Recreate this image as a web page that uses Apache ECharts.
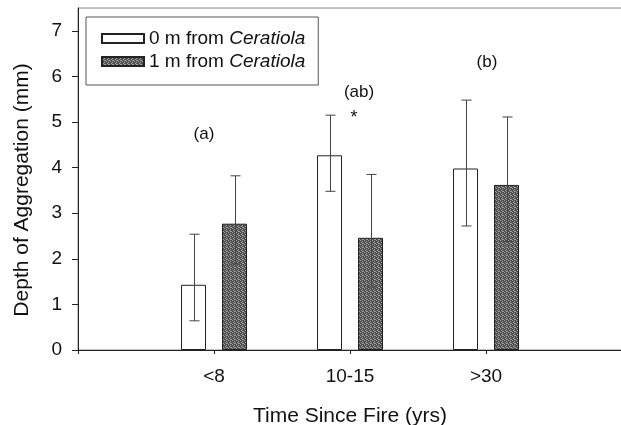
<!DOCTYPE html>
<html>
<head>
<meta charset="utf-8">
<script src="https://cdn.jsdelivr.net/npm/echarts@6/dist/echarts.min.js"></script>
<style>
  html, body { margin: 0; padding: 0; background: #fff; }
  #chart { width: 621px; height: 425px; }
</style>
</head>
<body>
<div id="chart"></div>
<script>
// categories (empty ends keep the plot padded like the original)
var categories = ['', '<8', '10-15', '>30', ''];
var yTicks = [0, 1, 2, 3, 4, 5, 6, 7];

// 0 m from Ceratiola
var mean0 = [null, 1.43, 4.27, 3.98, null];
var low0 = [null, 0.64, 3.48, 2.72, null];
var high0 = [null, 2.54, 5.15, 5.48, null];

// 1 m from Ceratiola
var mean1 = [null, 2.77, 2.46, 3.62, null];
var low1 = [null, 1.89, 1.38, 2.38, null];
var high1 = [null, 3.82, 3.85, 5.11, null];

// group letters
var annoText = ['(a)', '(ab)', '*', '(b)'];
var annoCat = ['<8', '10-15', '10-15', '>30'];
var annoY = [4.72, 5.65, 5.08, 6.3];
var annoOffset = [[-10, 0], [9, 0], [4, 0], [1, 0]];

var chart = echarts.init(document.getElementById('chart'), null, { renderer: 'canvas' });

// stipple fill for the dark bars
var pat = document.createElement('canvas');
pat.width = 4;
pat.height = 4;
var pctx = pat.getContext('2d');
pctx.fillStyle = '#505050';
pctx.fillRect(0, 0, 4, 4);
pctx.fillStyle = '#a0a0a0';
pctx.fillRect(0, 0, 1, 1);
pctx.fillRect(2, 1, 1, 1);
pctx.fillRect(1, 2, 1, 1);
pctx.fillRect(3, 3, 1, 1);
pctx.fillRect(2, 3, 1, 1);

var barW = 25 / 136;
var shift = 20.5 / 136;

function errorSeries(lows, highs, side) {
  var data = [];
  for (var i = 0; i < categories.length; i++) {
    if (lows[i] != null) data.push([i, lows[i], highs[i]]);
  }
  return {
    type: 'custom',
    silent: true,
    z: 5,
    data: data,
    renderItem: function (params, api) {
      var band = api.size([1, 0])[0];
      var lo = api.coord([api.value(0), api.value(1)]);
      var hi = api.coord([api.value(0), api.value(2)]);
      var x = Math.round(lo[0] + side * shift * band) + 0.5;
      var cap = 5;
      var st = { stroke: '#444', lineWidth: 1 };
      return {
        type: 'group',
        children: [
          { type: 'line', shape: { x1: x, y1: lo[1], x2: x, y2: hi[1] }, style: st },
          { type: 'line', shape: { x1: x - cap, y1: hi[1], x2: x + cap, y2: hi[1] }, style: st },
          { type: 'line', shape: { x1: x - cap, y1: lo[1], x2: x + cap, y2: lo[1] }, style: st }
        ]
      };
    }
  };
}

var annoData = [];
for (var k = 0; k < annoText.length; k++) {
  annoData.push({
    value: [annoCat[k], annoY[k]],
    label: {
      formatter: annoText[k],
      offset: annoOffset[k],
      color: '#111',
      textBorderWidth: 0,
      fontSize: annoText[k] == '*' ? 18 : 17
    }
  });
}

var font = 'Liberation Sans, Arial, sans-serif';

chart.setOption({
  animation: false,
  backgroundColor: '#fff',
  textStyle: { fontFamily: font, color: '#111' },
  grid: {
    left: 78, top: 8, width: 544, bottom: 75,
    outerBoundsMode: 'none',
    show: true, borderColor: '#888', borderWidth: 1, backgroundColor: 'transparent'
  },
  legend: {
    orient: 'vertical',
    left: 86, top: 17,
    padding: [12, 13, 14, 15],
    itemGap: 4,
    itemWidth: 42, itemHeight: 9,
    borderColor: '#555', borderWidth: 1,
    icon: 'rect',
    data: ['0 m', '1 m'],
    formatter: function (name) {
      return '{n|' + name + ' from }{i|Ceratiola}';
    },
    textStyle: {
      fontFamily: font, fontSize: 19, color: '#111',
      rich: {
        n: { fontFamily: font, fontSize: 19, lineHeight: 19, color: '#111' },
        i: { fontFamily: font, fontSize: 19, lineHeight: 19, color: '#111', fontStyle: 'italic' }
      }
    }
  },
  xAxis: {
    type: 'category',
    data: categories,
    boundaryGap: false,
    name: 'Time Since Fire (yrs)',
    nameLocation: 'middle',
    nameGap: 56,
    nameTextStyle: { fontFamily: font, fontSize: 21, color: '#111' },
    axisLine: { lineStyle: { color: '#222', width: 1 } },
    axisTick: { show: true, length: 4, lineStyle: { color: '#222' } },
    axisLabel: { fontFamily: font, fontSize: 19, color: '#111', margin: 17 },
    splitLine: { show: false }
  },
  yAxis: {
    type: 'value',
    min: 0, max: 7.5, interval: 1,
    name: 'Depth of Aggregation (mm)',
    nameLocation: 'middle',
    nameGap: 45,
    nameTextStyle: { fontFamily: font, fontSize: 21, color: '#111', padding: [0, 22, 0, 0] },
    axisLine: { show: true, lineStyle: { color: '#222', width: 1 } },
    axisTick: { show: true, length: 6, lineStyle: { color: '#222' }, customValues: yTicks },
    axisLabel: { fontFamily: font, fontSize: 19, color: '#111', margin: 16, customValues: yTicks },
    splitLine: { show: false }
  },
  series: [
    {
      name: '0 m',
      type: 'bar',
      data: mean0,
      barWidth: (barW * 100) + '%',
      barGap: '64%',
      itemStyle: { color: '#fff', borderColor: '#222', borderWidth: 1 }
    },
    {
      name: '1 m',
      type: 'bar',
      data: mean1,
      barWidth: (barW * 100) + '%',
      itemStyle: { color: { image: pat, repeat: 'repeat' }, borderColor: '#222', borderWidth: 1 }
    },
    errorSeries(low0, high0, -1),
    errorSeries(low1, high1, 1),
    {
      type: 'scatter',
      symbolSize: 0,
      silent: true,
      itemStyle: { opacity: 1 },
      data: annoData,
      label: { show: true, position: 'inside', fontFamily: font, color: '#111' }
    }
  ]
});
</script>
</body>
</html>
